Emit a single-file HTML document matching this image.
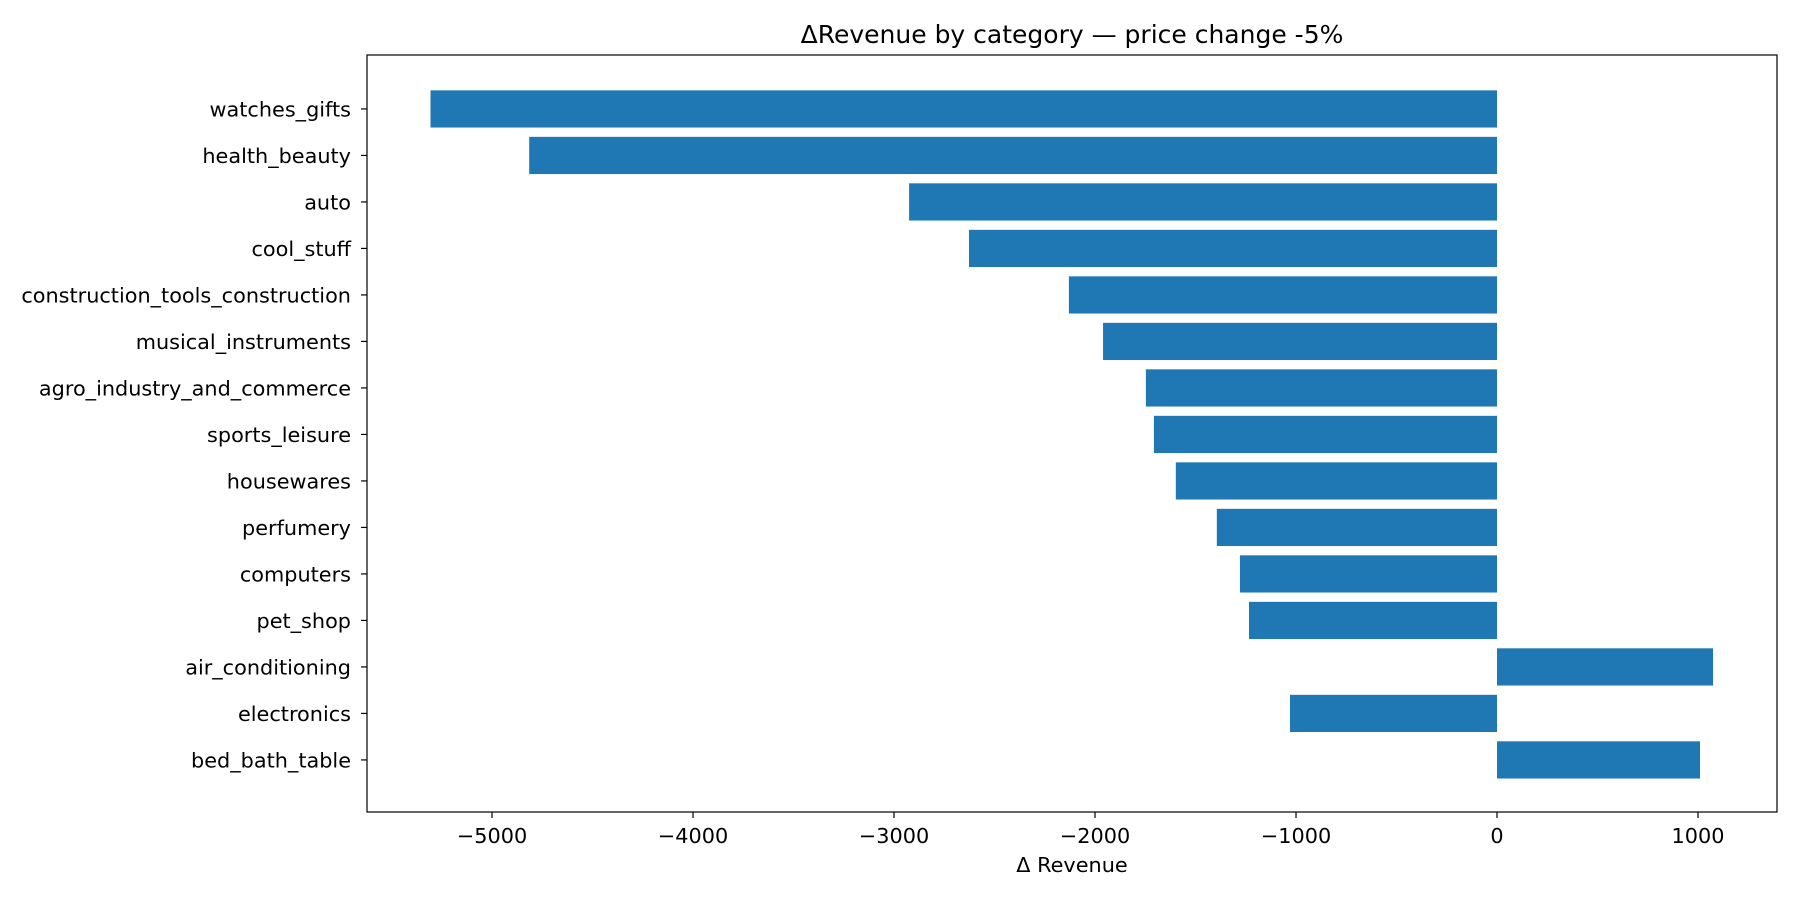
<!DOCTYPE html>
<html><head><meta charset="utf-8"><style>
html,body{margin:0;padding:0;background:#fff;}
svg text{font-family:"DejaVu Sans","Liberation Sans",sans-serif;fill:#000;}
</style></head><body>
<svg id="chart" width="1800" height="900" xmlns="http://www.w3.org/2000/svg">
<rect x="0" y="0" width="1800" height="900" fill="#fff"/>
<text x="1072" y="43" font-size="25" text-anchor="middle">ΔRevenue by category — price change -5%</text>
<g id="bars"></g>
<g id="yticks"></g>
<g id="xticks"></g>
<rect x="367" y="55" width="1410" height="757" fill="none" stroke="#000" stroke-width="1.2"/>
<text x="1072" y="872" font-size="20.8" text-anchor="middle">Δ Revenue</text>
</svg>
<script>
const categories = ["watches_gifts","health_beauty","auto","cool_stuff","construction_tools_construction","musical_instruments","agro_industry_and_commerce","sports_leisure","housewares","perfumery","computers","pet_shop","air_conditioning","electronics","bed_bath_table"];
const values = [-5306,-4815,-2925,-2627,-2130,-1960,-1747,-1707,-1598,-1394,-1279,-1234,1075,-1030,1010];
const xTicks = [-5000,-4000,-3000,-2000,-1000,0,1000];
const xTickLabels = ["−5000","−4000","−3000","−2000","−1000","0","1000"];

const NS = "http://www.w3.org/2000/svg";
const plotL = 367, plotR = 1777, plotT = 55, plotB = 812;
const xMin = -5622, xMax = 1393;
function xScale(v){ return plotL + (v - xMin) / (xMax - xMin) * (plotR - plotL); }
const n = categories.length;
const yMin = -1.16, yMax = n - 1 + 1.12;
function yScale(i){ return plotT + (i - yMin) / (yMax - yMin) * (plotB - plotT); }
const step = yScale(1) - yScale(0);
const barH = step * 0.8;

const bars = document.getElementById('bars');
const yt = document.getElementById('yticks');
const xt = document.getElementById('xticks');

categories.forEach((c, i) => {
  const v = values[i];
  const x0 = xScale(Math.min(0, v)), x1 = xScale(Math.max(0, v));
  const cy = yScale(i);
  const r = document.createElementNS(NS, 'rect');
  r.setAttribute('x', x0); r.setAttribute('y', cy - barH / 2);
  r.setAttribute('width', x1 - x0); r.setAttribute('height', barH);
  r.setAttribute('fill', '#1f77b4');
  
  
  bars.appendChild(r);
  const tk = document.createElementNS(NS, 'line');
  tk.setAttribute('x1', plotL - 6); tk.setAttribute('x2', plotL);
  tk.setAttribute('y1', cy); tk.setAttribute('y2', cy);
  tk.setAttribute('stroke', '#000'); tk.setAttribute('stroke-width', '1.2');
  
  
  yt.appendChild(tk);
  const t = document.createElementNS(NS, 'text');
  t.setAttribute('x', plotL - 16); t.setAttribute('y', cy + 7.5);
  t.setAttribute('font-size', '20.8'); t.setAttribute('text-anchor', 'end');
  t.textContent = c;
  
  
  yt.appendChild(t);
});

xTicks.forEach((v, i) => {
  const x = xScale(v);
  const tk = document.createElementNS(NS, 'line');
  tk.setAttribute('x1', x); tk.setAttribute('x2', x);
  tk.setAttribute('y1', plotB); tk.setAttribute('y2', plotB + 6);
  tk.setAttribute('stroke', '#000'); tk.setAttribute('stroke-width', '1.2');
  
  
  xt.appendChild(tk);
  const t = document.createElementNS(NS, 'text');
  t.setAttribute('x', x); t.setAttribute('y', plotB + 31);
  t.setAttribute('font-size', '20.8'); t.setAttribute('text-anchor', 'middle');
  t.textContent = xTickLabels[i];
  
  
  xt.appendChild(t);
});
</script>
</body></html>
